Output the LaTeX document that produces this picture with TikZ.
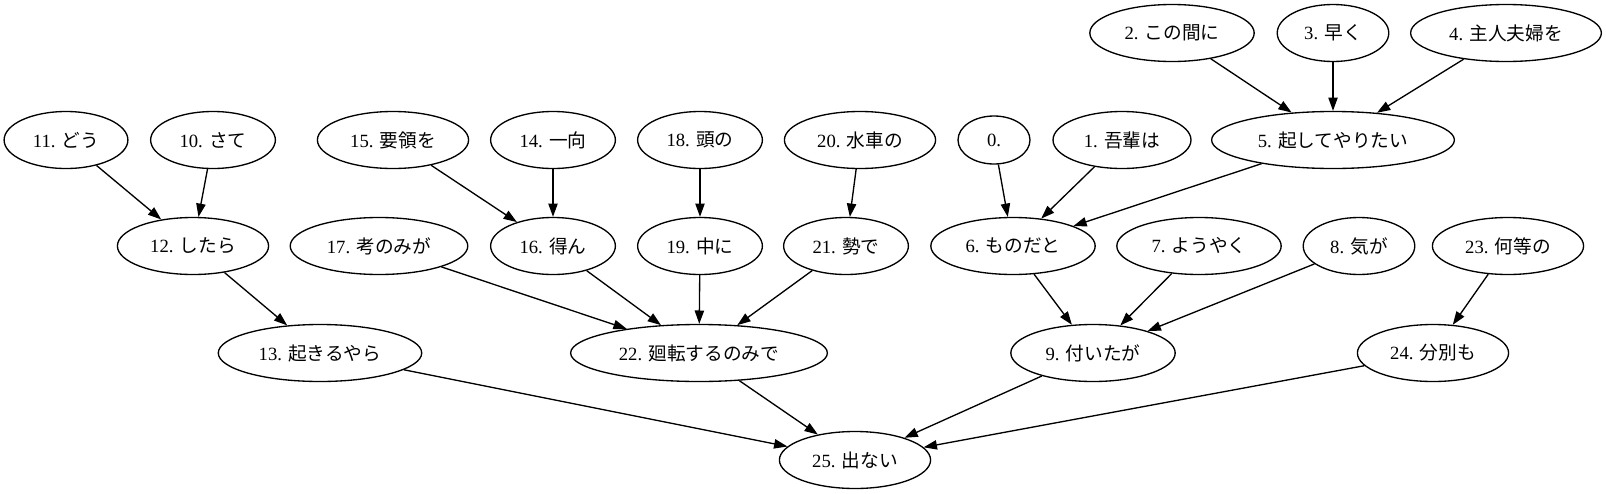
\documentclass[tikz,border=0pt]{standalone}
\usepackage{fontspec}
\setmainfont{Liberation Serif}
\newfontfamily\jfont{Noto Sans CJK JP}
\usetikzlibrary{arrows.meta, shapes.geometric}

\begin{document}
\begin{tikzpicture}[
    x = 0.75pt, y = -0.75pt,
    font = \fontsize{14}{17}\selectfont,
    word/.style = {
      ellipse, draw,
      line width = 1pt,
      inner xsep = 8pt,
      inner ysep = 4pt,
      minimum width = 54pt,
      minimum height = 42.75pt,
    },
    link/.style = {
      line width = 1pt,
      -{Triangle[length = 10pt, width = 7pt]},
    },
  ]
  \useasboundingbox (0,0) rectangle (1606,493);

  % words, row by row
  \foreach \n/\x/\y/\desc in {
    2/1172/33/{この間に},
    3/1333/33/{早く},
    4/1506/33/{主人夫婦を},
    11/66/140/{どう},
    10/213/140/{さて},
    15/393/140/{要領を},
    14/553/140/{一向},
    18/700/140/{頭の},
    20/860/140/{水車の},
    1/1122/140/{吾輩は},
    5/1333/140/{起してやりたい},
    12/193/246/{したら},
    17/379/246/{考のみが},
    16/553/246/{得ん},
    19/700/246/{中に},
    21/846/246/{勢で},
    6/1013/246/{ものだと},
    7/1199/246/{ようやく},
    8/1359/246/{気が},
    23/1508/246/{何等の},
    13/320/353/{起きるやら},
    22/699/353/{廻転するのみで},
    9/1093/353/{付いたが},
    24/1433/353/{分別も},
    25/855/460/{出ない}}{
    \node[word] (w\n) at (\x,\y) {\n. {\jfont\desc}};
  }
  \node[word, minimum height = 36pt] (w0) at (994,140) {0.};

  % dependencies
  \foreach \a/\b in {
    2/5, 3/5, 4/5,
    11/12, 10/12, 15/16, 14/16, 18/19, 20/21,
    0/6, 1/6, 5/6,
    12/13, 17/22, 16/22, 19/22, 21/22,
    6/9, 7/9, 8/9, 23/24,
    13/25, 22/25, 9/25, 24/25}{
    \draw[link] (w\a) -- (w\b);
  }

\end{tikzpicture}
\end{document}
